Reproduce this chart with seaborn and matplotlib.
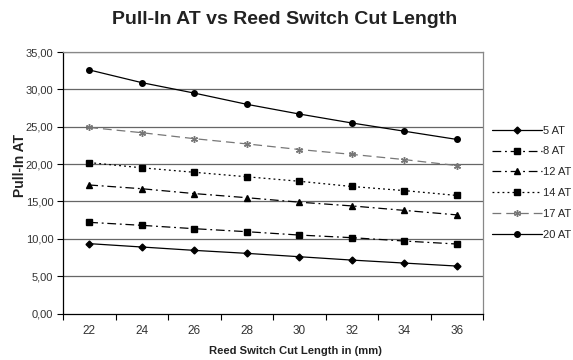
import matplotlib
matplotlib.use("Agg")
import matplotlib.pyplot as plt
import seaborn as sns
import pandas as pd

lengths = [22, 24, 26, 28, 30, 32, 34, 36]
at_5 = [9.35, 8.9, 8.45, 8.05, 7.6, 7.15, 6.75, 6.35]
at_8 = [12.2, 11.8, 11.35, 10.95, 10.5, 10.15, 9.7, 9.3]
at_12 = [17.2, 16.7, 16.05, 15.5, 14.9, 14.4, 13.8, 13.2]
at_14 = [20.2, 19.5, 18.9, 18.3, 17.7, 17.0, 16.45, 15.8]
at_17 = [24.9, 24.2, 23.4, 22.7, 21.95, 21.3, 20.6, 19.8]
at_20 = [32.6, 30.9, 29.5, 28.0, 26.7, 25.5, 24.4, 23.3]
series_names = ["5 AT", "8 AT", "12 AT", "14 AT", "17 AT", "20 AT"]
series_values = [at_5, at_8, at_12, at_14, at_17, at_20]
y_ticks = [0, 5, 10, 15, 20, 25, 30, 35]

sns.set_theme(style="white")
plt.rcParams['font.family'] = ['Liberation Sans', 'DejaVu Sans']

rows = []
for name, vals in zip(series_names, series_values):
    for x, v in zip(lengths, vals):
        rows.append({"len": x, "val": v, "series": name})
df = pd.DataFrame(rows)

styles = {
    "5 AT": dict(color="black", marker="D", ms=3.5, ls="-", lw=0.9),
    "8 AT": dict(color="black", marker="s", ms=4.5, ls=(0, (7, 3, 1.5, 3)), lw=0.9),
    "12 AT": dict(color="black", marker="^", ms=4.5, ls=(0, (7, 3, 1.5, 3)), lw=0.9),
    "14 AT": dict(color="black", marker="s", ms=5, ls=(0, (1.5, 2.5)), lw=0.9),
    "17 AT": dict(color="#777777", marker=(6, 2, 0), ms=5, ls=(0, (7, 4)), lw=0.9),
    "20 AT": dict(color="black", marker="o", ms=4, ls="-", lw=0.9),
}

fig = plt.figure(figsize=(5.73, 3.6), dpi=100)
ax = fig.add_axes([63/573, 1-313.5/360, (483-63)/573, (313.5-52)/360])

for name in series_names:
    st = styles[name]
    sub = df[df["series"] == name]
    sns.lineplot(data=sub, x="len", y="val", ax=ax, color=st["color"], marker=st["marker"],
                 markersize=st["ms"], linestyle=st["ls"], linewidth=st["lw"], label=name,
                 markeredgecolor=st["color"], markerfacecolor=st["color"], markeredgewidth=1.0)

ax.set_xlim(21, 37)
ax.set_ylim(0, 35)
ax.set_yticks(y_ticks)
ax.set_yticklabels([f"{v:.2f}".replace(".", ",") for v in y_ticks], fontsize=8, color="#333333")
ax.set_xticks(lengths)
ax.set_xticklabels([str(v) for v in lengths], fontsize=8.5, color="#333333")
ax.set_xticks([21 + 2 * i for i in range(9)], minor=True)
ax.tick_params(axis="x", which="major", length=0, pad=8)
ax.tick_params(axis="x", which="minor", length=4, width=0.8, color="black", direction="out", bottom=True)
ax.tick_params(axis="y", which="major", length=4, width=0.8, color="black", direction="out", left=True, pad=3)

for v in y_ticks[1:]:
    ax.axhline(v, color="#666666", lw=0.9, zorder=0)

for side in ["top", "right"]:
    ax.spines[side].set_color("#888888")
    ax.spines[side].set_linewidth(0.9)
for side in ["left", "bottom"]:
    ax.spines[side].set_color("black")
    ax.spines[side].set_linewidth(0.9)

ax.set_xlabel("")
ax.set_ylabel("")
fig.text(295.5/573, 1-351.5/360, "Reed Switch Cut Length in (mm)", fontsize=8.1, fontweight="bold",
         ha="center", va="center", color="#222222")
fig.text(20/573, 1-165.5/360, "Pull-In AT", fontsize=10, fontweight="bold", rotation=90,
         ha="center", va="center", color="#222222")
fig.text(284.7/573, 1-19.5/360, "Pull-In AT vs Reed Switch Cut Length", fontsize=14, fontweight="bold",
         ha="center", va="center", color="#222222")

leg = ax.legend(loc="center left", bbox_to_anchor=(1.01, 0.5), frameon=False, fontsize=8,
                handlelength=4.5, labelspacing=0.98, handletextpad=0.1, borderaxespad=0)
fig.savefig("out.png", dpi=100)
